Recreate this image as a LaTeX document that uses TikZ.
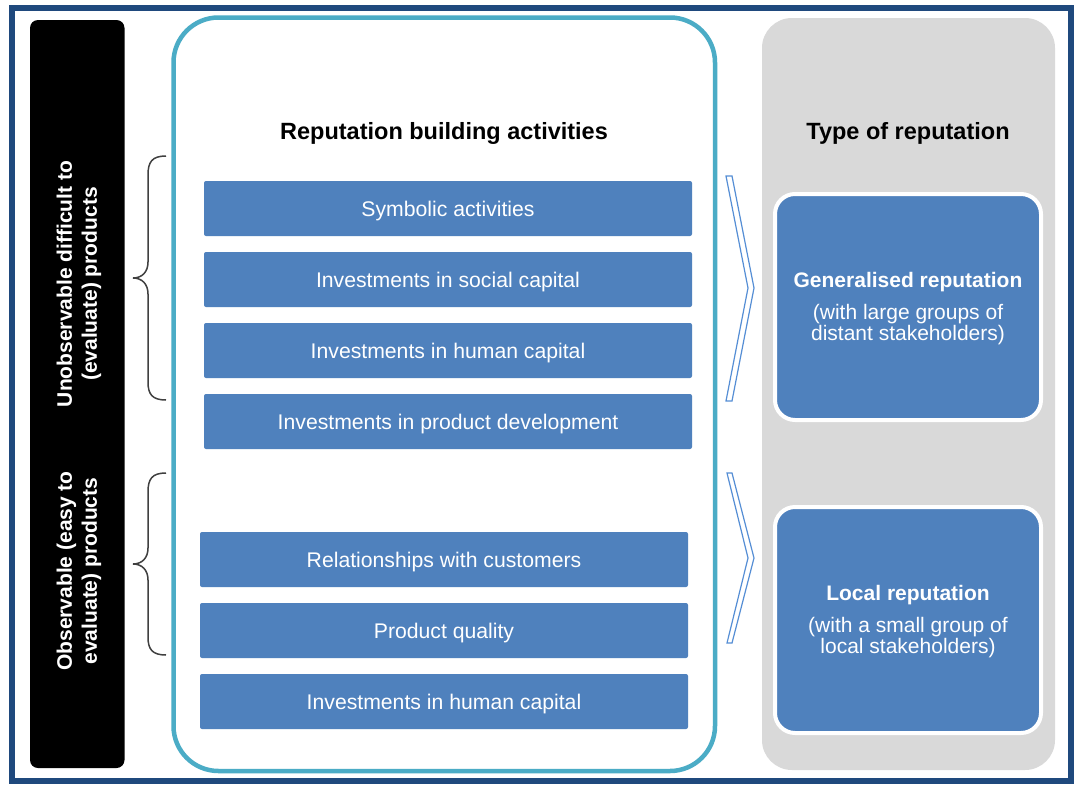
\documentclass[tikz,border=0pt]{standalone}
\usepackage{fontspec}
\setmainfont{Liberation Sans}
\definecolor{navyB}{RGB}{31,73,125}
\definecolor{tealB}{RGB}{75,172,198}
\definecolor{grayB}{RGB}{217,217,217}
\definecolor{blueA}{RGB}{79,129,189}
\definecolor{chevB}{RGB}{85,142,213}
\definecolor{braceC}{RGB}{64,64,64}
\tikzset{
  actbox/.style={fill=blueA, text=white, rounded corners=2pt, minimum width=488pt, minimum height=55pt, inner sep=0pt, text height=19pt, text depth=4pt, font=\fontsize{21.2}{25}\selectfont},
  repbox/.style={fill=blueA, draw=white, line width=4pt, rounded corners=20pt, minimum width=266pt, minimum height=226pt, inner sep=0pt},
  reptext/.style={text=white, inner sep=0pt, align=center, font=\fontsize{21}{21}\selectfont},
  titletext/.style={font=\fontsize{23.5}{28}\selectfont\bfseries, text=black, inner sep=0pt},
  sidetext/.style={rotate=90, text=white, align=center, inner sep=0pt, font=\fontsize{21}{25}\selectfont\bfseries},
  bracepath/.style={draw=braceC, line width=1.5pt},
  chevron/.style={draw=chevB, fill=white, line width=1.2pt, line join=miter}
}
\begin{document}
\begin{tikzpicture}[x=1pt,y=-1pt]
\useasboundingbox (0,0) rectangle (1074,785);
\fill[white] (0,0) rectangle (1074,785);
% outer frame
\draw[navyB, line width=6pt] (12,7.5) rectangle (1071,781);
% black side panel
\fill[black, rounded corners=8pt] (30,20) rectangle (124.5,768);
% teal panel
\draw[tealB, fill=white, line width=4.5pt, rounded corners=45pt] (173.5,17.5) rectangle (715,771);
% gray panel
\fill[grayB, rounded corners=30pt] (762,18) rectangle (1055,770);

% titles
\node[titletext] (t1) at (444,133) {Reputation building activities};
\node[titletext] (t2) at (908,133) {Type of reputation};

% activity boxes
\node[actbox] (a1) at (448,208.5) {Symbolic activities};
\node[actbox] (a2) at (448,279.5) {Investments in social capital};
\node[actbox] (a3) at (448,350.5) {Investments in human capital};
\node[actbox] (a4) at (448,421.5) {Investments in product development};
\node[actbox] (b1) at (444,559.5) {Relationships with customers};
\node[actbox] (b2) at (444,630.5) {Product quality};
\node[actbox] (b3) at (444,701.5) {Investments in human capital};

% reputation boxes
\node[repbox] (g) at (908,307) {};
\node[reptext] (gt) at ([yshift=-2pt]g.center) {\textbf{Generalised reputation}\\[11pt](with large groups of\\distant stakeholders)};
\node[repbox] (l) at (908,620) {};
\node[reptext] (lt) at ([yshift=-2pt]l.center) {\textbf{Local reputation}\\[11pt](with a small group of\\local stakeholders)};

% side texts
\node[sidetext] (s1) at (79,284) {Unobservable difficult to\\(evaluate) products};
\node[sidetext] (s2) at (79,571) {Observable (easy to\\evaluate) products};

% braces
\draw[bracepath] (166,156) .. controls (152,156) and (148,162) .. (148,175) -- (148,262)
  .. controls (148,272) and (142,278) .. (133,278)
  .. controls (142,278) and (148,284) .. (148,294) -- (148,382)
  .. controls (148,394) and (152,400) .. (166,400);
\draw[bracepath] (166,473) .. controls (152,473) and (148,479) .. (148,492) -- (148,548)
  .. controls (148,558) and (142,564) .. (133,564)
  .. controls (142,564) and (148,570) .. (148,580) -- (148,637)
  .. controls (148,649) and (152,655) .. (166,655);

% chevrons
\draw[chevron] (726,176) -- (732,176) -- (754,288) -- (732,401) -- (726,401) -- (748,288) -- cycle;
\draw[chevron] (727,473) -- (732,473) -- (754,558) -- (732,643) -- (727,643) -- (748,558) -- cycle;
\end{tikzpicture}
\end{document}
